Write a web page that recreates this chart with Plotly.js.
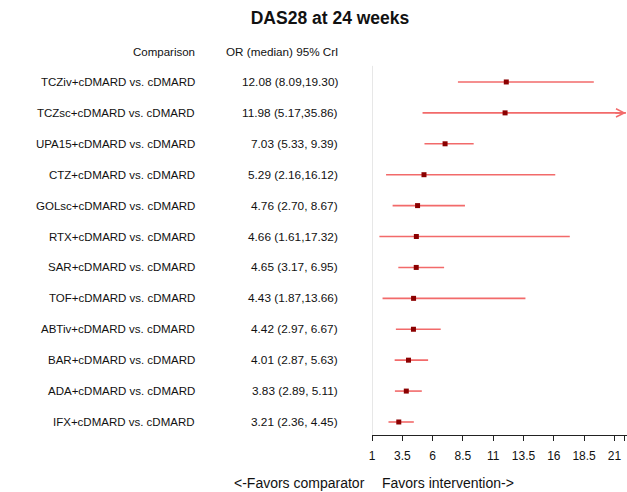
<!DOCTYPE html>
<html>
<head>
<meta charset="utf-8">
<script src="https://cdn.plot.ly/plotly-3.0.1.min.js"></script>
<style>html,body{margin:0;padding:0;background:#fff;}#chart{width:627px;height:492px;}</style>
</head>
<body>
<div id="chart"></div>
<script>
const comparisons = [
  "TCZiv+cDMARD vs. cDMARD","TCZsc+cDMARD vs. cDMARD","UPA15+cDMARD vs. cDMARD",
  "CTZ+cDMARD vs. cDMARD","GOLsc+cDMARD vs. cDMARD","RTX+cDMARD vs. cDMARD",
  "SAR+cDMARD vs. cDMARD","TOF+cDMARD vs. cDMARD","ABTiv+cDMARD vs. cDMARD",
  "BAR+cDMARD vs. cDMARD","ADA+cDMARD vs. cDMARD","IFX+cDMARD vs. cDMARD"
];
const orMedian = [12.08, 11.98, 7.03, 5.29, 4.76, 4.66, 4.65, 4.43, 4.42, 4.01, 3.83, 3.21];
const orLower  = [8.09, 5.17, 5.33, 2.16, 2.70, 1.61, 3.17, 1.87, 2.97, 2.87, 2.89, 2.36];
const orUpper  = [19.30, 35.86, 9.39, 16.12, 8.67, 17.32, 6.95, 13.66, 6.67, 5.63, 5.11, 4.45];
const orText   = [
  "12.08 (8.09,19.30)","11.98 (5.17,35.86)","7.03 (5.33, 9.39)","5.29 (2.16,16.12)",
  "4.76 (2.70, 8.67)","4.66 (1.61,17.32)","4.65 (3.17, 6.95)","4.43 (1.87,13.66)",
  "4.42 (2.97, 6.67)","4.01 (2.87, 5.63)","3.83 (2.89, 5.11)","3.21 (2.36, 4.45)"
];
const tickVals = [1, 3.5, 6, 8.5, 11, 13.5, 16, 18.5, 21, 21.8];
const tickLabels = ["1","3.5","6","8.5","11","13.5","16","18.5","21",""];

const n = comparisons.length;
const rowY = comparisons.map((_, i) => n - i);
const xMax = 22.04;
const arrowEnd = 21.95;
const font = "Arial, 'Liberation Sans', sans-serif";

// CrI segments
const segX = [], segY = [];
for (let i = 0; i < n; i++) {
  segX.push(orLower[i], Math.min(orUpper[i], arrowEnd), null);
  segY.push(rowY[i], rowY[i], null);
}

const traces = [
  {x: segX, y: segY, mode: 'lines', type: 'scatter', line: {color: '#f26a6a', width: 1.6},
   hoverinfo: 'skip', showlegend: false},
  {x: orMedian, y: rowY, mode: 'markers', type: 'scatter',
   marker: {symbol: 'square', color: '#8b0000', size: 5}, showlegend: false}
];

const ann = [];
for (let i = 0; i < n; i++) {
  ann.push({xref: 'paper', yref: 'y', x: 197/627, y: rowY[i], xanchor: 'right', yanchor: 'middle',
    text: comparisons[i], showarrow: false, font: {family: font, size: 11.5, color: '#111'}});
  ann.push({xref: 'paper', yref: 'y', x: 340/627, y: rowY[i], xanchor: 'right', yanchor: 'middle',
    text: orText[i], showarrow: false, font: {family: font, size: 11.8, color: '#111'}});
  if (orUpper[i] > arrowEnd) {
    ann.push({xref: 'x', yref: 'y', axref: 'x', ayref: 'y', x: arrowEnd, y: rowY[i],
      ax: arrowEnd - 1, ay: rowY[i], text: '', showarrow: true, arrowhead: 5, arrowsize: 1,
      arrowwidth: 1.6, arrowcolor: '#f26a6a'});
  }
}
ann.push({xref: 'paper', yref: 'paper', x: 197/627, y: (435-52)/373, xanchor: 'right', yanchor: 'middle',
  text: 'Comparison', showarrow: false, font: {family: font, size: 11.5, color: '#111'}});
ann.push({xref: 'paper', yref: 'paper', x: 340/627, y: (435-52)/373, xanchor: 'right', yanchor: 'middle',
  text: 'OR (median) 95% CrI', showarrow: false, font: {family: font, size: 11.7, color: '#111'}});
ann.push({xref: 'paper', yref: 'paper', x: 367/627, y: (435-483)/373, xanchor: 'right', yanchor: 'middle',
  text: '&lt;-Favors comparator', showarrow: false, font: {family: font, size: 14, color: '#111'}});
ann.push({xref: 'paper', yref: 'paper', x: 380/627, y: (435-483)/373, xanchor: 'left', yanchor: 'middle',
  text: 'Favors intervention-&gt;', showarrow: false, font: {family: font, size: 14, color: '#111'}});

const layout = {
  width: 627, height: 492,
  margin: {l: 0, r: 0, t: 62, b: 57, pad: 0},
  paper_bgcolor: '#fff', plot_bgcolor: '#fff',
  title: {text: '<b>DAS28 at 24 weeks</b>', x: 330/627, xanchor: 'center', y: 1 - 18/492, yanchor: 'middle',
    font: {family: font, size: 17.5, color: '#111'}},
  xaxis: {domain: [372/627, 1], range: [1, xMax], showgrid: false, zeroline: false,
    showline: true, linecolor: '#222', linewidth: 1, ticks: 'outside', ticklen: 5, tickcolor: '#222',
    tickvals: tickVals, ticktext: tickLabels, tickangle: 0, ticklabelstandoff: 5,
    tickfont: {family: font, size: 12, color: '#111'}, fixedrange: true},
  yaxis: {range: [0.579, 12.646], visible: false, fixedrange: true},
  shapes: [{type: 'line', xref: 'x', yref: 'y', x0: 1, x1: 1, y0: 0.579, y1: 12.52,
    line: {color: '#cfcfcf', width: 1}, layer: 'below'}],
  annotations: ann,
  showlegend: false
};

Plotly.newPlot('chart', traces, layout, {displayModeBar: false, staticPlot: true});
</script>
</body>
</html>
